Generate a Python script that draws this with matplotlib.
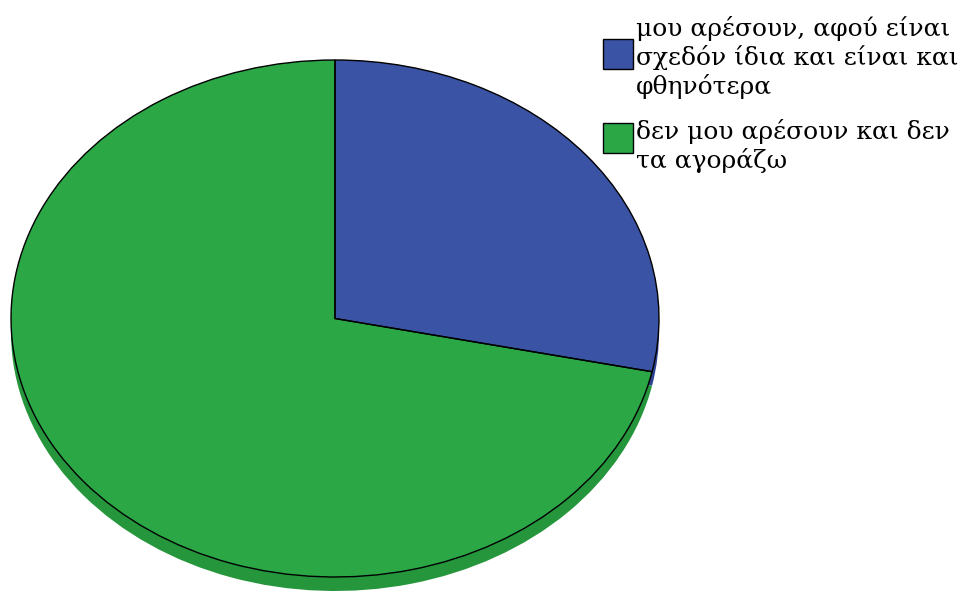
import matplotlib.pyplot as plt
from matplotlib.patches import Rectangle

# survey answers (percent)
labels = ['μου αρέσουν, αφού είναι\nσχεδόν ίδια και είναι και\nφθηνότερα',
          'δεν μου αρέσουν και δεν\nτα αγοράζω']
values = [28.3, 71.7]
colors = ['#3a53a4', '#2ba845']
side_colors = ['#2d4390', '#25963b']

W, H = 960, 593
fig = plt.figure(figsize=(W / 100, H / 100), dpi=100)

# pie geometry in pixels (from top-left)
cx, cy = 335, 318.5
rx, ry = 324, 258.5
depth = 14
d = depth / ry

ax = fig.add_axes([(cx - rx) / W, (H - (cy + ry + depth)) / H,
                   2 * rx / W, (2 * ry + depth) / H])

# side of the disc: same pie shifted down, darker
ax.pie(values, colors=side_colors, startangle=90, counterclock=False,
       center=(0, -d), wedgeprops=dict(linewidth=0))
# top face
ax.pie(values, colors=colors, startangle=90, counterclock=False,
       wedgeprops=dict(linewidth=0))
# black outline, only on the upper part of the disc
edges, _ = ax.pie(values, startangle=90, counterclock=False,
                  wedgeprops=dict(fill=False, edgecolor='black', linewidth=1.0))
clip = Rectangle((-1.2, -0.25), 2.4, 1.5, transform=ax.transData)
for w in edges:
    w.set_clip_path(clip)

ax.set_aspect('auto')
ax.set_xlim(-1, 1)
ax.set_ylim(-1 - d, 1)
ax.axis('off')

# legend drawn by hand: squares + wrapped labels
box_y = [39, 123]
text_y = [94, 168]   # baseline of the last line of each label
for lab, col, by, ty in zip(labels, colors, box_y, text_y):
    fig.patches.append(Rectangle((603 / W, 1 - (by + 30) / H), 30 / W, 30 / H,
                                 facecolor=col, edgecolor='black', linewidth=1,
                                 transform=fig.transFigure, figure=fig))
    fig.text(636 / W, 1 - ty / H, lab, fontsize=18, family='DejaVu Serif',
             va='baseline', ha='left', linespacing=1.2, color='black')

fig.savefig('out.png', dpi=100)
